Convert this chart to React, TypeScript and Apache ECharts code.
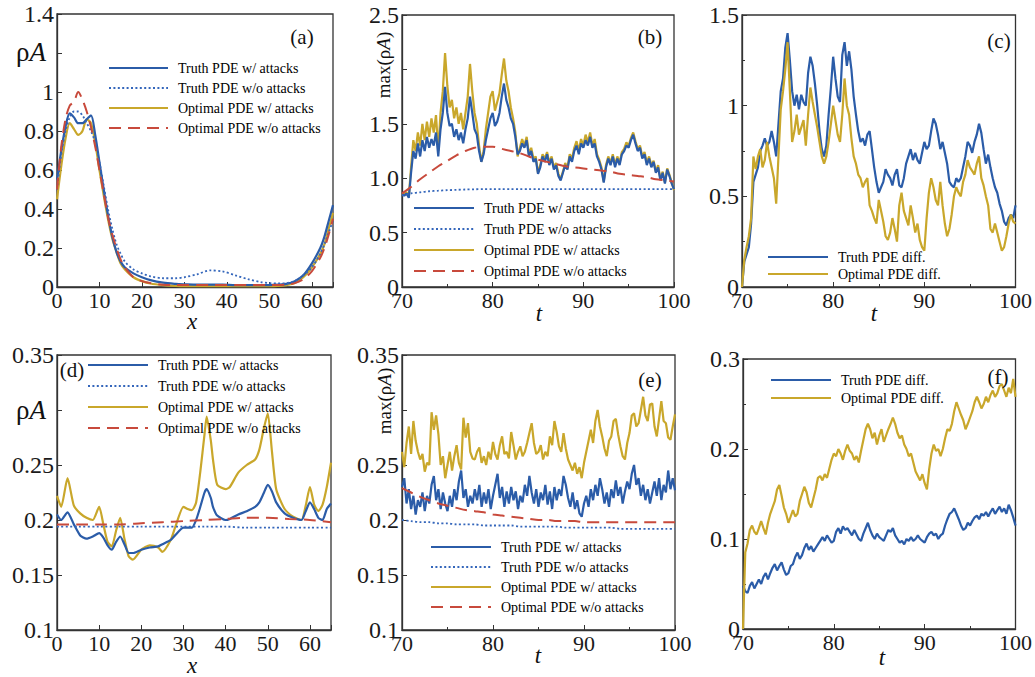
import React, { useEffect, useRef } from "react";
import * as echarts from "echarts";

// ---------- sampling grids ----------
const T_FINE = Array.from({ length: 121 }, (_, i) => 70 + i * 0.25);
const T_COARSE = Array.from({ length: 31 }, (_, i) => 70 + i);

// ---------- panel (a): rho*A profile over x ----------
const X_A = [0, 1, 2, 3, 4, 5, 6, 7, 8, 9, 10, 11, 12, 13, 14, 15, 16, 18, 20, 22, 25, 28, 30, 33, 36, 39, 42, 45, 48, 50, 52, 54, 56, 58, 60, 62, 63, 64, 65];
const A_TRUTH_ATT = [0.55, 0.7, 0.82, 0.89, 0.87, 0.84, 0.84, 0.86, 0.88, 0.78, 0.64, 0.5, 0.37, 0.26, 0.18, 0.13, 0.1, 0.07, 0.05, 0.035, 0.022, 0.016, 0.014, 0.012, 0.012, 0.012, 0.01, 0.01, 0.01, 0.01, 0.012, 0.016, 0.03, 0.06, 0.12, 0.2, 0.26, 0.34, 0.42];
const A_TRUTH_FREE = [0.5, 0.68, 0.8, 0.87, 0.9, 0.9, 0.88, 0.84, 0.8, 0.74, 0.64, 0.52, 0.4, 0.3, 0.22, 0.17, 0.13, 0.09, 0.07, 0.055, 0.045, 0.045, 0.05, 0.065, 0.085, 0.08, 0.06, 0.04, 0.025, 0.02, 0.018, 0.02, 0.03, 0.06, 0.1, 0.17, 0.22, 0.28, 0.34];
const A_OPT_ATT = [0.45, 0.62, 0.76, 0.84, 0.81, 0.78, 0.8, 0.86, 0.84, 0.74, 0.6, 0.47, 0.35, 0.25, 0.18, 0.12, 0.09, 0.05, 0.03, 0.018, 0.01, 0.006, 0.005, 0.005, 0.005, 0.005, 0.005, 0.005, 0.005, 0.005, 0.006, 0.01, 0.02, 0.05, 0.1, 0.17, 0.22, 0.3, 0.38];
const A_OPT_FREE = [0.5, 0.72, 0.86, 0.93, 0.95, 1.0, 0.96, 0.9, 0.82, 0.72, 0.6, 0.48, 0.36, 0.27, 0.2, 0.14, 0.1, 0.05, 0.03, 0.02, 0.012, 0.01, 0.01, 0.01, 0.01, 0.01, 0.01, 0.01, 0.01, 0.01, 0.01, 0.012, 0.02, 0.04, 0.08, 0.15, 0.2, 0.27, 0.35];

// ---------- panel (b): max(rho*A) over t ----------
const B_TRUTH_ATT = [
  0.85, 0.84, 0.86, 0.82,
  1.05, 1.25, 1.18, 1.32,
  1.2, 1.35, 1.25, 1.38,
  1.28, 1.36, 1.3, 1.42,
  1.2, 1.45, 1.6, 1.84,
  1.6, 1.48, 1.5, 1.38,
  1.45, 1.35, 1.42, 1.32,
  1.45, 1.55, 1.75, 1.6,
  1.45, 1.4, 1.25, 1.15,
  1.22, 1.35, 1.45, 1.55,
  1.6, 1.48, 1.52, 1.6,
  1.75, 1.87, 1.72, 1.65,
  1.55, 1.5, 1.38, 1.22,
  1.25, 1.32, 1.28, 1.35,
  1.2, 1.25, 1.15, 1.18,
  1.04, 1.1, 1.2, 1.15,
  1.22, 1.12, 1.18, 1.08,
  1.12, 1.02, 0.98, 1.05,
  1.12, 1.08, 1.2, 1.15,
  1.25, 1.3, 1.22, 1.32,
  1.28, 1.35, 1.3, 1.38,
  1.28, 1.32, 1.2, 1.15,
  1.08, 0.96, 1.1, 1.18,
  1.12, 1.2, 1.1, 1.18,
  1.12, 1.22, 1.25, 1.3,
  1.28, 1.35, 1.4, 1.32,
  1.25, 1.28, 1.18, 1.22,
  1.12, 1.18, 1.1, 1.15,
  1.05, 1.1, 0.98, 1.05,
  0.95, 1.08, 1.02, 0.95,
  0.9,
];
const B_OPT_ATT = [
  0.86, 0.85, 0.87, 0.83,
  1.1, 1.35, 1.25, 1.42,
  1.3, 1.5, 1.35, 1.52,
  1.38, 1.55, 1.42, 1.58,
  1.25, 1.6, 1.8, 2.15,
  1.85, 1.65, 1.72, 1.55,
  1.65, 1.5, 1.6, 1.45,
  1.6, 1.75, 2.05, 1.8,
  1.6, 1.5, 1.3, 1.15,
  1.25, 1.45, 1.6, 1.75,
  1.8, 1.62, 1.7, 1.78,
  1.95, 2.1, 1.9, 1.8,
  1.65, 1.55, 1.42, 1.2,
  1.28, 1.36, 1.3, 1.38,
  1.22, 1.28, 1.18, 1.2,
  1.05, 1.12, 1.22, 1.18,
  1.24, 1.14, 1.2, 1.1,
  1.14, 1.04, 0.99, 1.06,
  1.14, 1.1, 1.22, 1.18,
  1.28, 1.34, 1.25, 1.36,
  1.3, 1.4, 1.33, 1.42,
  1.3, 1.36, 1.22, 1.17,
  1.1, 0.97, 1.12, 1.2,
  1.14, 1.22, 1.12, 1.2,
  1.14, 1.24, 1.27, 1.33,
  1.3, 1.37, 1.42, 1.34,
  1.27, 1.3, 1.2, 1.24,
  1.14, 1.2, 1.12, 1.16,
  1.06, 1.12, 0.99, 1.06,
  0.96, 1.09, 1.03, 0.96,
  0.89,
];
const B_TRUTH_FREE = [0.84, 0.86, 0.87, 0.88, 0.885, 0.89, 0.893, 0.896, 0.898, 0.9, 0.9, 0.9, 0.9, 0.9, 0.9, 0.9, 0.9, 0.9, 0.9, 0.9, 0.9, 0.9, 0.9, 0.9, 0.9, 0.9, 0.9, 0.9, 0.9, 0.9, 0.9];
const B_OPT_FREE = [0.86, 0.92, 0.99, 1.05, 1.11, 1.16, 1.21, 1.25, 1.28, 1.29, 1.29, 1.27, 1.25, 1.23, 1.2, 1.17, 1.15, 1.13, 1.11, 1.1, 1.09, 1.08, 1.07, 1.06, 1.04, 1.03, 1.02, 1.01, 0.99, 0.98, 0.97];

// ---------- panel (c): difference over t ----------
const C_TRUTH_DIFF = [
  0, 0.14, 0.18, 0.22,
  0.35, 0.58, 0.62, 0.66,
  0.75, 0.78, 0.82, 0.78,
  0.8, 0.86, 0.8, 0.72,
  0.9, 1.08, 1.15, 1.32,
  1.4, 1.25, 1.08, 1.0,
  1.06, 0.98, 1.06, 1.02,
  1.0, 1.18, 1.27, 1.22,
  1.12, 1.0, 0.86, 0.76,
  0.72, 0.78, 0.95, 1.1,
  1.27, 1.15, 1.05, 1.02,
  1.28, 1.35, 1.22, 1.3,
  1.2, 1.05, 0.95, 0.86,
  0.8, 0.82, 0.78, 0.84,
  0.86, 0.76, 0.66, 0.58,
  0.52, 0.55, 0.58, 0.65,
  0.62, 0.6, 0.56, 0.62,
  0.65, 0.56, 0.55, 0.6,
  0.68, 0.72, 0.76, 0.7,
  0.74, 0.7, 0.68, 0.74,
  0.8, 0.76, 0.78, 0.86,
  0.93, 0.9, 0.84, 0.76,
  0.8, 0.74, 0.68, 0.58,
  0.56, 0.55, 0.6, 0.58,
  0.6, 0.66, 0.72, 0.8,
  0.78, 0.74, 0.8, 0.84,
  0.9, 0.85, 0.76, 0.68,
  0.73, 0.66, 0.6, 0.55,
  0.52, 0.46, 0.42, 0.36,
  0.34, 0.38, 0.4, 0.38,
  0.45,
];
const C_OPT_DIFF = [
  0, 0.15, 0.22, 0.28,
  0.38, 0.72, 0.65, 0.72,
  0.76, 0.66, 0.7, 0.8,
  0.72, 0.66, 0.6, 0.46,
  0.72, 0.98, 1.08, 1.2,
  1.35, 1.08, 0.8, 0.86,
  0.95, 0.84, 0.88, 0.92,
  0.78, 0.95, 1.1, 1.02,
  0.95, 0.88, 0.8, 0.72,
  0.68, 0.72, 0.8, 0.9,
  1.0, 0.92, 0.84, 0.8,
  0.95, 1.15, 1.0, 0.95,
  0.82, 0.72, 0.68, 0.62,
  0.6, 0.55, 0.58, 0.6,
  0.45, 0.42, 0.38, 0.35,
  0.48, 0.42, 0.36, 0.28,
  0.26, 0.3, 0.38, 0.32,
  0.25, 0.45, 0.52, 0.42,
  0.38, 0.34, 0.45, 0.38,
  0.3, 0.35, 0.26, 0.22,
  0.2, 0.38, 0.52, 0.6,
  0.55, 0.48, 0.45, 0.58,
  0.45, 0.35, 0.28, 0.32,
  0.4, 0.5, 0.55, 0.52,
  0.5, 0.58, 0.62, 0.7,
  0.66, 0.64, 0.62, 0.68,
  0.72, 0.6, 0.56, 0.5,
  0.45, 0.32, 0.3, 0.35,
  0.3, 0.25, 0.2, 0.22,
  0.28, 0.35, 0.4, 0.36,
  0.35,
];

// ---------- panel (d): rho*A profile over x (second case) ----------
const X_D = [0, 1, 2.5, 4, 5.5, 7, 8.5, 10, 11, 12, 13, 14, 15, 16, 17, 18, 20, 22, 24, 25, 27, 28, 30, 31, 32, 33, 34, 35, 35.5, 36.5, 37, 38, 40, 41, 43, 45, 47, 48, 49, 50, 51, 52, 54, 56, 58, 59, 60, 61, 62, 63, 64, 65];
const D_TRUTH_ATT = [0.205, 0.2, 0.207, 0.196, 0.186, 0.183, 0.185, 0.188, 0.184, 0.177, 0.173, 0.18, 0.185, 0.178, 0.17, 0.17, 0.173, 0.175, 0.176, 0.178, 0.182, 0.186, 0.193, 0.193, 0.193, 0.2, 0.212, 0.225, 0.228, 0.22, 0.212, 0.204, 0.2, 0.201, 0.205, 0.208, 0.212, 0.216, 0.224, 0.232, 0.226, 0.216, 0.206, 0.202, 0.2, 0.208, 0.216, 0.21, 0.202, 0.2, 0.21, 0.215];
const D_OPT_ATT = [0.222, 0.212, 0.238, 0.213, 0.206, 0.202, 0.2, 0.212, 0.196, 0.18, 0.176, 0.19, 0.202, 0.183, 0.167, 0.164, 0.173, 0.177, 0.175, 0.171, 0.182, 0.193, 0.212, 0.21, 0.209, 0.216, 0.244, 0.278, 0.294, 0.272, 0.255, 0.232, 0.228, 0.23, 0.243, 0.25, 0.255, 0.264, 0.282, 0.297, 0.262, 0.228, 0.21, 0.203, 0.2, 0.213, 0.23, 0.214, 0.208, 0.214, 0.23, 0.252];
const X_D_COARSE = [0, 5, 10, 15, 20, 25, 30, 35, 40, 45, 50, 55, 60, 65];
const D_TRUTH_FREE = [0.194, 0.194, 0.194, 0.194, 0.194, 0.194, 0.194, 0.194, 0.194, 0.193, 0.193, 0.193, 0.193, 0.193];
const D_OPT_FREE = [0.196, 0.196, 0.196, 0.196, 0.197, 0.198, 0.199, 0.2, 0.201, 0.202, 0.202, 0.201, 0.2, 0.198];

// ---------- panel (e): max(rho*A) over t (second case) ----------
const E_TRUTH_ATT = [
  0.23, 0.238, 0.215, 0.228,
  0.21, 0.222, 0.205, 0.218,
  0.212, 0.225, 0.208, 0.222,
  0.215, 0.232, 0.24, 0.218,
  0.228, 0.21, 0.225, 0.215,
  0.208, 0.222, 0.212, 0.228,
  0.218, 0.235, 0.245, 0.22,
  0.228, 0.212, 0.222, 0.215,
  0.228, 0.218, 0.232, 0.212,
  0.225, 0.215, 0.228, 0.21,
  0.222, 0.232, 0.242, 0.22,
  0.23, 0.212, 0.226, 0.215,
  0.23, 0.218, 0.226, 0.21,
  0.222, 0.216, 0.232, 0.222,
  0.24, 0.225, 0.215, 0.228,
  0.212, 0.225, 0.218, 0.232,
  0.214, 0.226, 0.21, 0.23,
  0.218, 0.228, 0.222, 0.24,
  0.232, 0.22, 0.212, 0.225,
  0.21, 0.218, 0.206, 0.203,
  0.215, 0.222, 0.212, 0.228,
  0.218, 0.232, 0.222, 0.238,
  0.228, 0.215, 0.225, 0.212,
  0.228, 0.22, 0.236, 0.222,
  0.23, 0.215, 0.226, 0.235,
  0.228, 0.242, 0.25, 0.232,
  0.238, 0.222, 0.232, 0.218,
  0.228, 0.215, 0.225, 0.235,
  0.222, 0.238, 0.218, 0.232,
  0.225, 0.245, 0.228, 0.238,
  0.227,
];
const E_OPT_ATT = [
  0.262, 0.248, 0.27, 0.285,
  0.26, 0.29, 0.272, 0.262,
  0.255, 0.26, 0.244, 0.252,
  0.25, 0.298, 0.282, 0.295,
  0.278, 0.25, 0.258, 0.238,
  0.25, 0.262, 0.245, 0.258,
  0.268, 0.252, 0.246, 0.293,
  0.275, 0.288, 0.262, 0.256,
  0.255, 0.262, 0.266, 0.252,
  0.258, 0.25, 0.262, 0.255,
  0.271, 0.26, 0.255, 0.268,
  0.276, 0.26, 0.262, 0.256,
  0.28, 0.268, 0.255, 0.262,
  0.267, 0.258, 0.262, 0.27,
  0.279, 0.288, 0.27, 0.26,
  0.262, 0.268, 0.255, 0.262,
  0.258, 0.276, 0.268, 0.29,
  0.28, 0.267, 0.262, 0.279,
  0.265, 0.255, 0.25, 0.245,
  0.252, 0.242, 0.248, 0.238,
  0.252, 0.262, 0.272, 0.282,
  0.27, 0.29, 0.3, 0.285,
  0.276, 0.265, 0.258, 0.272,
  0.276, 0.29, 0.292, 0.278,
  0.267, 0.258, 0.255, 0.27,
  0.279, 0.295, 0.297, 0.285,
  0.288, 0.3, 0.312, 0.295,
  0.29, 0.305, 0.306, 0.285,
  0.276, 0.292, 0.308, 0.29,
  0.288, 0.275, 0.273, 0.285,
  0.296,
];
const E_TRUTH_FREE = [0.2, 0.199, 0.198, 0.198, 0.197, 0.197, 0.196, 0.196, 0.196, 0.195, 0.195, 0.195, 0.195, 0.194, 0.194, 0.194, 0.194, 0.194, 0.193, 0.193, 0.193, 0.193, 0.193, 0.193, 0.192, 0.192, 0.192, 0.192, 0.192, 0.192, 0.192];
const E_OPT_FREE = [0.229, 0.225, 0.221, 0.218, 0.215, 0.213, 0.211, 0.209, 0.208, 0.207, 0.205, 0.204, 0.203, 0.202, 0.201, 0.2, 0.2, 0.199, 0.199, 0.199, 0.198, 0.198, 0.198, 0.198, 0.198, 0.198, 0.198, 0.198, 0.198, 0.198, 0.198];

// ---------- panel (f): difference over t (second case) ----------
const F_TRUTH_DIFF = [
  0.048, 0.042, 0.04, 0.048,
  0.052, 0.045, 0.05, 0.055,
  0.05, 0.058, 0.062, 0.055,
  0.062, 0.068, 0.072, 0.065,
  0.07, 0.074, 0.066, 0.06,
  0.062, 0.07, 0.072, 0.08,
  0.085, 0.078, 0.082, 0.09,
  0.095, 0.088, 0.092, 0.086,
  0.09, 0.094, 0.098, 0.102,
  0.098, 0.104, 0.1, 0.096,
  0.098, 0.108, 0.112, 0.106,
  0.114, 0.11, 0.112, 0.108,
  0.104, 0.11, 0.105, 0.1,
  0.098, 0.106, 0.112, 0.118,
  0.11, 0.104, 0.1, 0.106,
  0.102, 0.1, 0.098, 0.104,
  0.11, 0.108, 0.112, 0.104,
  0.1, 0.096, 0.098, 0.094,
  0.1, 0.098, 0.102, 0.098,
  0.1, 0.104, 0.1, 0.098,
  0.096, 0.102, 0.106, 0.108,
  0.104, 0.106, 0.1, 0.104,
  0.106, 0.115, 0.122, 0.128,
  0.13, 0.134, 0.128, 0.122,
  0.115, 0.11, 0.112, 0.118,
  0.115, 0.12, 0.124, 0.126,
  0.122, 0.128, 0.126, 0.13,
  0.125, 0.13, 0.134, 0.128,
  0.132, 0.136, 0.13, 0.134,
  0.128, 0.138, 0.132, 0.124,
  0.115,
];
const F_OPT_DIFF = [
  0, 0.085, 0.095, 0.11,
  0.115, 0.108, 0.105, 0.112,
  0.12, 0.112, 0.105, 0.118,
  0.128, 0.135, 0.142, 0.155,
  0.16, 0.148, 0.135, 0.128,
  0.118, 0.125, 0.132, 0.125,
  0.128, 0.142, 0.15, 0.158,
  0.152, 0.14, 0.135, 0.145,
  0.155, 0.168, 0.17, 0.165,
  0.172, 0.168, 0.178, 0.188,
  0.195, 0.192, 0.2, 0.195,
  0.188, 0.198, 0.205, 0.198,
  0.195, 0.188, 0.192, 0.185,
  0.198, 0.21, 0.222, 0.228,
  0.222, 0.212, 0.218, 0.205,
  0.215, 0.222, 0.208, 0.215,
  0.222, 0.228, 0.235, 0.228,
  0.218, 0.212, 0.215, 0.205,
  0.2, 0.192, 0.195, 0.185,
  0.175, 0.17, 0.165, 0.172,
  0.162, 0.155, 0.178, 0.195,
  0.205, 0.198, 0.2, 0.192,
  0.2, 0.212, 0.222, 0.22,
  0.228, 0.242, 0.252, 0.245,
  0.238, 0.232, 0.222, 0.228,
  0.235, 0.242, 0.252, 0.258,
  0.252, 0.245, 0.25, 0.258,
  0.252, 0.26, 0.265, 0.258,
  0.262, 0.27, 0.272, 0.265,
  0.258, 0.268, 0.262, 0.278,
  0.258,
];

// ---------- series names ----------
const N_TRUTH_ATT = "Truth PDE w/ attacks";
const N_TRUTH_FREE = "Truth PDE w/o attacks";
const N_OPT_ATT = "Optimal PDE w/ attacks";
const N_OPT_FREE = "Optimal PDE w/o attacks";
const N_TRUTH_DIFF = "Truth PDE diff.";
const N_OPT_DIFF = "Optimal PDE diff.";

const FONT = "'Liberation Serif', 'Times New Roman', serif";
const BLUE = "#2b5ca8";
const BLUE_DOT = "#3466bb";
const GOLD = "#c9a72b";
const RED = "#c84a3c";

type LineKind = "solidBlue" | "dotBlue" | "solidGold" | "dashRed";
const LINE_STYLES: Record<LineKind, any> = {
  solidBlue: { color: BLUE, width: 2.2, type: "solid" },
  dotBlue: { color: BLUE_DOT, width: 1.8, type: [2, 2.4] },
  solidGold: { color: GOLD, width: 2.2, type: "solid" },
  dashRed: { color: RED, width: 2, type: [12, 7] },
};

const zip = (xs: number[], ys: number[]) => ys.map((y, i) => [xs[i], y]);

function line(name: string, xs: number[], ys: number[], idx: number, kind: LineKind, smooth: number | boolean = false) {
  const ls = LINE_STYLES[kind];
  return {
    type: "line",
    name,
    xAxisIndex: idx,
    yAxisIndex: idx,
    data: zip(xs, ys),
    symbol: "none",
    smooth,
    lineStyle: { ...ls },
    itemStyle: { color: ls.color },
    emphasis: { disabled: true },
  };
}

// grid boxes: [left, top, width, height]
const GRIDS = [
  [57, 14, 276, 273],
  [402, 15, 272, 272],
  [742, 15, 275, 272],
  [57, 355, 274, 275],
  [402, 355, 273, 275],
  [743, 359, 273, 270],
];

const trim = (v: number) => String(parseFloat(v.toFixed(3)));
const near = (a: number, b: number) => Math.abs(a - b) < 1e-9;

const AXIS_LINE = { show: true, lineStyle: { color: "#333", width: 1.3 } };
const LABEL = { color: "#1a1a1a", fontFamily: FONT };

function xAxis(idx: number, min: number, max: number, hideVal: number | null, minor: boolean) {
  return {
    type: "value",
    gridIndex: idx,
    min,
    max,
    interval: 10,
    axisLine: AXIS_LINE,
    axisTick: { show: true, inside: true, length: 5, lineStyle: { color: "#333" } },
    minorTick: { show: minor, splitNumber: 2, length: 3, lineStyle: { color: "#333" } },
    splitLine: { show: false },
    axisLabel: {
      ...LABEL,
      fontSize: 22,
      lineHeight: 14,
      margin: 6,
      formatter: (v: number) => (hideVal !== null && near(v, hideVal) ? "" : trim(v)),
    },
  };
}

function yAxis(idx: number, min: number, max: number, interval: number, fmt: (v: number) => string, minor: boolean) {
  return {
    type: "value",
    gridIndex: idx,
    min,
    max,
    interval,
    axisLine: AXIS_LINE,
    axisTick: { show: true, inside: true, length: 5, lineStyle: { color: "#333" } },
    minorTick: { show: minor, splitNumber: 2, length: 3, lineStyle: { color: "#333" } },
    splitLine: { show: false },
    axisLabel: { ...LABEL, fontSize: 24, lineHeight: 12, margin: 3, formatter: fmt },
  };
}

function legend(names: string[], left: number, top: number, gap: number, itemWidth = 59) {
  return {
    data: names,
    orient: "vertical",
    left,
    top,
    padding: 0,
    itemWidth,
    itemHeight: 14,
    itemGap: gap,
    selectedMode: false,
    // only the line sample is wanted, not the point symbol on it
    itemStyle: { opacity: 0 },
    textStyle: { fontFamily: FONT, fontSize: 14, color: "#000", padding: [0, 0, 0, 5] },
  };
}

const FOUR = [N_TRUTH_ATT, N_TRUTH_FREE, N_OPT_ATT, N_OPT_FREE];
const TWO = [N_TRUTH_DIFF, N_OPT_DIFF];

function text(x: number, y: number, t: string, size: number, italic = false) {
  return {
    type: "text",
    x,
    y,
    z: 100,
    style: {
      text: t,
      fontFamily: FONT,
      fontSize: size,
      fontStyle: italic ? "italic" : "normal",
      fill: "#111",
      align: "center",
      verticalAlign: "middle",
    },
  };
}

function richLabel(x: number, y: number, t: string, size: number, rotation = 0) {
  return {
    type: "text",
    x,
    y,
    z: 100,
    rotation,
    style: {
      text: t,
      align: "center",
      verticalAlign: "middle",
      fill: "#111",
      rich: {
        r: { fontFamily: FONT, fontSize: size, fill: "#111" },
        i: { fontFamily: FONT, fontSize: size, fontStyle: "italic", fill: "#111" },
      },
    },
  };
}

function buildOption() {
  const grid = GRIDS.map(([left, top, width, height]) => ({
    left,
    top,
    width,
    height,
    show: true,
    borderColor: "#333",
    borderWidth: 1.3,
    backgroundColor: "transparent",
  }));

  const xAxes = [
    xAxis(0, 0, 65, 65, false),
    xAxis(1, 70, 100, null, true),
    xAxis(2, 70, 100, null, true),
    xAxis(3, 0, 65, 65, false),
    xAxis(4, 70, 100, null, true),
    xAxis(5, 70, 100, null, true),
  ];

  const yAxes = [
    yAxis(0, 0, 1.4, 0.2, (v) => (near(v, 1.2) ? "" : trim(v)), false),
    yAxis(1, 0, 2.5, 0.5, (v) => (v === 0 ? "0" : near(v, 2) ? "" : v.toFixed(1)), false),
    yAxis(2, 0, 1.5, 0.5, (v) => trim(v), true),
    yAxis(3, 0.1, 0.35, 0.05, (v) => (near(v, 0.3) ? "" : trim(v)), false),
    yAxis(4, 0.1, 0.35, 0.05, (v) => (near(v, 0.3) ? "" : trim(v)), false),
    yAxis(5, 0, 0.3, 0.1, (v) => trim(v), true),
  ];

  const series = [
    // (a)
    line(N_OPT_ATT, X_A, A_OPT_ATT, 0, "solidGold", 0.3),
    line(N_TRUTH_ATT, X_A, A_TRUTH_ATT, 0, "solidBlue", 0.3),
    line(N_TRUTH_FREE, X_A, A_TRUTH_FREE, 0, "dotBlue", 0.3),
    line(N_OPT_FREE, X_A, A_OPT_FREE, 0, "dashRed", 0.3),
    // (b)
    line(N_OPT_ATT, T_FINE, B_OPT_ATT, 1, "solidGold"),
    line(N_TRUTH_ATT, T_FINE, B_TRUTH_ATT, 1, "solidBlue"),
    line(N_TRUTH_FREE, T_COARSE, B_TRUTH_FREE, 1, "dotBlue", 0.3),
    line(N_OPT_FREE, T_COARSE, B_OPT_FREE, 1, "dashRed", 0.3),
    // (c)
    line(N_TRUTH_DIFF, T_FINE, C_TRUTH_DIFF, 2, "solidBlue"),
    line(N_OPT_DIFF, T_FINE, C_OPT_DIFF, 2, "solidGold"),
    // (d)
    line(N_OPT_ATT, X_D, D_OPT_ATT, 3, "solidGold", 0.2),
    line(N_TRUTH_ATT, X_D, D_TRUTH_ATT, 3, "solidBlue", 0.2),
    line(N_TRUTH_FREE, X_D_COARSE, D_TRUTH_FREE, 3, "dotBlue", 0.3),
    line(N_OPT_FREE, X_D_COARSE, D_OPT_FREE, 3, "dashRed", 0.3),
    // (e)
    line(N_OPT_ATT, T_FINE, E_OPT_ATT, 4, "solidGold"),
    line(N_TRUTH_ATT, T_FINE, E_TRUTH_ATT, 4, "solidBlue"),
    line(N_TRUTH_FREE, T_COARSE, E_TRUTH_FREE, 4, "dotBlue", 0.3),
    line(N_OPT_FREE, T_COARSE, E_OPT_FREE, 4, "dashRed", 0.3),
    // (f)
    line(N_TRUTH_DIFF, T_FINE, F_TRUTH_DIFF, 5, "solidBlue"),
    line(N_OPT_DIFF, T_FINE, F_OPT_DIFF, 5, "solidGold"),
  ];

  const legends = [
    legend(FOUR, 108, 61, 6),
    legend(FOUR, 413, 201, 7, 60),
    legend(TWO, 767, 250, 3, 60),
    legend(FOUR, 87, 358, 7, 60),
    legend(FOUR, 430, 540, 6, 60),
    legend(TWO, 770, 373, 4, 60),
  ];

  const graphic = [
    text(302, 37, "(a)", 21),
    text(650, 37, "(b)", 21),
    text(999, 41, "(c)", 21),
    text(72, 370, "(d)", 21),
    text(650, 380, "(e)", 21),
    text(998, 377, "(f)", 21),
    richLabel(31, 52, "{r|ρ}{i|A}", 27),
    richLabel(31, 410, "{r|ρ}{i|A}", 27),
    richLabel(383, 65, "{r|max(ρ}{i|A}{r|)}", 19, Math.PI / 2),
    richLabel(384, 401, "{r|max(ρ}{i|A}{r|)}", 19, Math.PI / 2),
    text(192, 321, "x", 23, true),
    text(539, 313, "t", 23, true),
    text(874, 313, "t", 23, true),
    text(192, 665, "x", 23, true),
    text(538, 655, "t", 23, true),
    text(882, 657, "t", 23, true),
  ];

  return {
    animation: false,
    backgroundColor: "#ffffff",
    grid,
    xAxis: xAxes,
    yAxis: yAxes,
    legend: legends,
    series,
    graphic,
  };
}

export default function App() {
  const ref = useRef<HTMLDivElement>(null);
  useEffect(() => {
    if (!ref.current) return;
    const chart = echarts.init(ref.current, undefined, { renderer: "svg" });
    chart.setOption(buildOption() as any);
    return () => chart.dispose();
  }, []);
  return (
    <div
      ref={ref}
      style={{ position: "absolute", left: 0, top: 0, width: 1035, height: 677, background: "#fff" }}
    />
  );
}
